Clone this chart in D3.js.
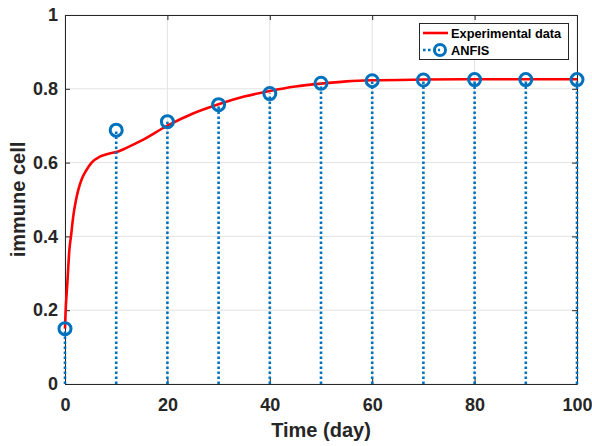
<!DOCTYPE html>
<html>
<head>
<meta charset="utf-8">
<script src="https://cdn.jsdelivr.net/npm/d3@7"></script>
<style>
  html, body { margin: 0; padding: 0; background: #fff; }
  svg { display: block; font-family: "Liberation Sans", Arial, Helvetica, sans-serif; }
</style>
</head>
<body>
<svg id="chart" width="592" height="446"></svg>
<script>
// ---- data ----
const anfisDays = [0, 10, 20, 30, 40, 50, 60, 70, 80, 90, 100];
const anfisValues = [0.150, 0.688, 0.711, 0.757, 0.787, 0.815, 0.822, 0.824, 0.825, 0.825, 0.825];

const expDays = [0, 0.13, 0.3, 0.45, 0.65, 0.85, 1.17, 1.6, 2.1, 2.6, 3.3, 4.2, 5.2, 6.8, 8.5, 10.4, 12, 15, 20, 25, 30, 35, 40, 45, 50, 55, 60, 70, 80, 90, 100];
const expValues = [0.150, 0.200, 0.240, 0.272, 0.320, 0.363, 0.400, 0.453, 0.495, 0.526, 0.556, 0.580, 0.600, 0.616, 0.624, 0.630, 0.640, 0.660, 0.700, 0.733, 0.758, 0.779, 0.794, 0.806, 0.814, 0.820, 0.823, 0.825, 0.826, 0.826, 0.826];

const xTicks = [0, 20, 40, 60, 80, 100];
const yTicks = [0, 0.2, 0.4, 0.6, 0.8, 1];
const yTickLabels = ["0", "0.2", "0.4", "0.6", "0.8", "1"];
const legendLabels = ["Experimental data", "ANFIS"];

// ---- layout ----
const svg = d3.select("#chart");
const L = 65, R = 577, T = 15, B = 384;
const axisColor = "#262626";
const blue = "#0072BD";
const red = "#ff0000";

const x = d3.scaleLinear().domain([0, 100]).range([L, R]);
const y = d3.scaleLinear().domain([0, 1]).range([B, T]);

// grid
const grid = svg.append("g");
grid.selectAll("line.vx").data(xTicks).join("line")
  .attr("x1", d => x(d)).attr("x2", d => x(d)).attr("y1", T).attr("y2", B)
  .attr("stroke", "#e3e3e3").attr("stroke-width", 1);
grid.selectAll("line.hy").data(yTicks).join("line")
  .attr("x1", L).attr("x2", R).attr("y1", d => y(d)).attr("y2", d => y(d))
  .attr("stroke", "#e3e3e3").attr("stroke-width", 1);

// axes (bottom/left with labels, top/right as box with inward ticks)
const tickLen = 5;
const axB = svg.append("g").attr("transform", `translate(0,${B})`)
  .call(d3.axisBottom(x).tickValues(xTicks).tickSizeInner(-tickLen).tickSizeOuter(0).tickPadding(14).tickFormat(d3.format("d")));
const axL = svg.append("g").attr("transform", `translate(${L},0)`)
  .call(d3.axisLeft(y).tickValues(yTicks).tickSizeInner(-tickLen).tickSizeOuter(0).tickPadding(7).tickFormat((d, i) => yTickLabels[i]));
const axT = svg.append("g").attr("transform", `translate(0,${T})`)
  .call(d3.axisTop(x).tickValues(xTicks).tickSizeInner(-tickLen).tickSizeOuter(0).tickFormat(""));
const axR = svg.append("g").attr("transform", `translate(${R},0)`)
  .call(d3.axisRight(y).tickValues(yTicks).tickSizeInner(-tickLen).tickSizeOuter(0).tickFormat(""));

[axB, axL, axT, axR].forEach(a => {
  a.select(".domain").attr("stroke", axisColor).attr("stroke-width", 1);
  a.selectAll(".tick line").attr("stroke", axisColor).attr("stroke-width", 1);
  a.selectAll(".tick text").attr("fill", axisColor)
    .style("font-size", "18px").style("font-weight", "bold")
    .style("font-family", "'Liberation Sans', Arial, sans-serif");
});

// experimental curve
const line = d3.line().x((d, i) => x(expDays[i])).y(d => y(d)).curve(d3.curveMonotoneX);
svg.append("path").datum(expValues)
  .attr("d", line).attr("fill", "none").attr("stroke", red).attr("stroke-width", 2.6);

// ANFIS stems
svg.append("g").selectAll("line").data(anfisValues).join("line")
  .attr("x1", (d, i) => x(anfisDays[i])).attr("x2", (d, i) => x(anfisDays[i]))
  .attr("y1", y(0)).attr("y2", d => y(d))
  .attr("stroke", blue).attr("stroke-width", 2.6).attr("stroke-dasharray", "2.6,2.4");
svg.append("g").selectAll("circle").data(anfisValues).join("circle")
  .attr("cx", (d, i) => x(anfisDays[i])).attr("cy", d => y(d)).attr("r", 6)
  .attr("fill", "none").attr("stroke", blue).attr("stroke-width", 3);

// axis labels
svg.append("text").attr("x", (L + R) / 2).attr("y", 437).attr("text-anchor", "middle")
  .attr("fill", axisColor).style("font-size", "20px").style("font-weight", "bold")
  .text("Time (day)");
svg.append("text").attr("transform", `translate(25,${(T + B) / 2}) rotate(-90)`).attr("text-anchor", "middle")
  .attr("fill", axisColor).style("font-size", "20px").style("font-weight", "bold")
  .text("immune cell");

// legend
const lg = svg.append("g");
lg.append("rect").attr("x", 419.5).attr("y", 23.5).attr("width", 149).attr("height", 36)
  .attr("fill", "#fff").attr("stroke", axisColor).attr("stroke-width", 1);
lg.append("line").attr("x1", 423).attr("x2", 448).attr("y1", 33).attr("y2", 33)
  .attr("stroke", red).attr("stroke-width", 2.6);
lg.append("line").attr("x1", 423).attr("x2", 440).attr("y1", 50).attr("y2", 50)
  .attr("stroke", blue).attr("stroke-width", 2.6).attr("stroke-dasharray", "2.6,2.4");
lg.append("circle").attr("cx", 440).attr("cy", 50).attr("r", 5.5)
  .attr("fill", "none").attr("stroke", blue).attr("stroke-width", 3);
lg.selectAll("text").data(legendLabels).join("text")
  .attr("x", 451).attr("y", (d, i) => 37.5 + i * 17)
  .attr("fill", "#000").style("font-size", "12.8px").style("font-weight", "bold")
  .text(d => d);
</script>
</body>
</html>
